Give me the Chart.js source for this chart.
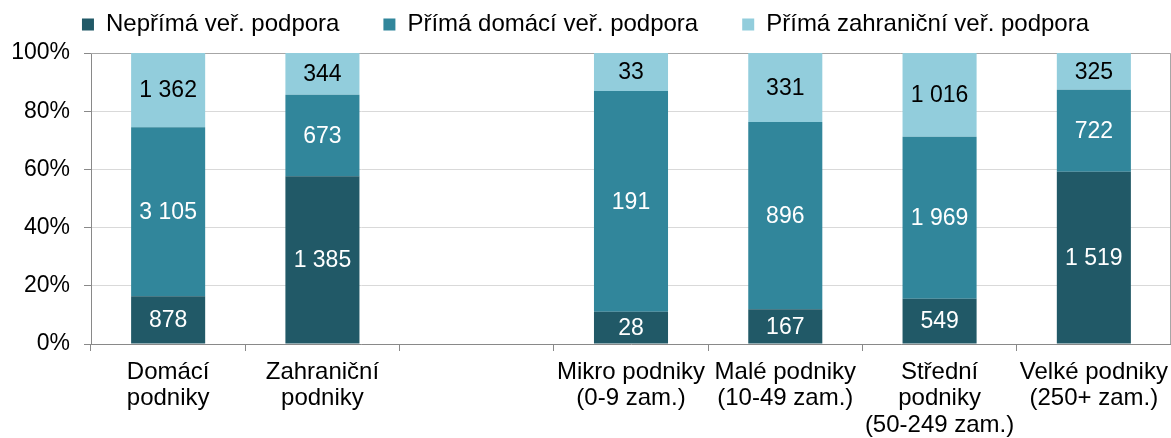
<!DOCTYPE html>
<html lang="cs">
<head>
<meta charset="UTF-8">
<script src="https://cdn.jsdelivr.net/npm/chart.js@4.4.1/dist/chart.umd.min.js"></script>
<title>Podpora podle typu podniku</title>
<style>
  html, body { margin: 0; padding: 0; background: #fff; }
  #wrap { width: 1171px; height: 438px; }
</style>
</head>
<body>
<div id="wrap"><canvas id="chart"></canvas></div>
<script>
// categories (third one is an empty gap)
const categories = [
    ['Domácí', 'podniky'],
    ['Zahraniční', 'podniky'],
    '',
    ['Mikro podniky', '(0-9 zam.)'],
    ['Malé podniky', '(10-49 zam.)'],
    ['Střední', 'podniky', '(50-249 zam.)'],
    ['Velké podniky', '(250+ zam.)']
];
const seriesNames = ['Nepřímá veř. podpora', 'Přímá domácí veř. podpora', 'Přímá zahraniční veř. podpora'];
const neprima = [878, 1385, null, 28, 167, 549, 1519];
const primaDomaci = [3105, 673, null, 191, 896, 1969, 722];
const primaZahranicni = [1362, 344, null, 33, 331, 1016, 325];
const yTicks = [0, 20, 40, 60, 80, 100];

const FONT = "'Liberation Sans', Arial, sans-serif";

// share of each series in its category total (100% stacked)
function share(arr) {
    return arr.map((v, i) => {
        if (v === null) return null;
        const total = neprima[i] + primaDomaci[i] + primaZahranicni[i];
        return v / total * 100;
    });
}

function fmt(n) {
    return String(n).replace(/\B(?=(\d{3})+(?!\d))/g, ' ');
}

const rawValues = [neprima, primaDomaci, primaZahranicni];
const labelColors = ['#ffffff', '#ffffff', '#000000'];

// value labels in the middle of each segment
const valueLabels = {
    id: 'valueLabels',
    afterDatasetsDraw(chart) {
        const ctx = chart.ctx;
        ctx.save();
        ctx.font = '23px ' + FONT;
        ctx.textAlign = 'center';
        ctx.textBaseline = 'middle';
        chart.data.datasets.forEach((ds, di) => {
            const meta = chart.getDatasetMeta(di);
            meta.data.forEach((bar, i) => {
                const v = rawValues[di][i];
                if (v === null) return;
                const p = bar.getProps(['x', 'y', 'base'], true);
                ctx.fillStyle = labelColors[di];
                ctx.fillText(fmt(v), p.x, (p.y + p.base) / 2 + 1);
            });
        });
        ctx.restore();
    }
};

// grey frame on top and right of plot area
const plotFrame = {
    id: 'plotFrame',
    beforeDatasetsDraw(chart) {
        const a = chart.chartArea;
        const ctx = chart.ctx;
        ctx.save();
        ctx.strokeStyle = '#A6A6A6';
        ctx.lineWidth = 1;
        ctx.beginPath();
        ctx.moveTo(a.left, Math.round(a.top) + 0.5);
        ctx.lineTo(Math.round(a.right) - 0.5, Math.round(a.top) + 0.5);
        ctx.lineTo(Math.round(a.right) - 0.5, a.bottom);
        ctx.stroke();
        ctx.restore();
    }
};

const config = {
    type: 'bar',
    data: {
        labels: categories,
        datasets: [
            { label: seriesNames[0], data: share(neprima), backgroundColor: '#215967' },
            { label: seriesNames[1], data: share(primaDomaci), backgroundColor: '#31869B' },
            { label: seriesNames[2], data: share(primaZahranicni), backgroundColor: '#92CDDC' }
        ]
    },
    options: {
        responsive: true,
        maintainAspectRatio: false,
        animation: false,
        datasets: {
            bar: { categoryPercentage: 1, barPercentage: 0.48, borderWidth: 0 }
        },
        layout: { padding: { top: -31.5, left: 0, right: 0, bottom: 0 } },
        plugins: {
            legend: {
                position: 'top',
                labels: {
                    font: { family: FONT, size: 24 },
                    color: '#000',
                    boxWidth: 12,
                    boxHeight: 12,
                    padding: 44
                }
            },
            subtitle: {
                display: true,
                text: '',
                weight: 500,
                font: { size: 1, lineHeight: 1 },
                padding: { top: 0, bottom: 5.5 }
            },
            tooltip: { enabled: false }
        },
        scales: {
            x: {
                stacked: true,
                afterFit(scale) {
                    scale.height = 94;
                    scale.paddingLeft = 0;
                    scale.paddingRight = 0;
                },
                grid: {
                    offset: true,
                    drawOnChartArea: false,
                    tickLength: 7,
                    tickColor: '#898989'
                },
                border: { color: '#898989' },
                ticks: {
                    autoSkip: false,
                    maxRotation: 0,
                    color: '#000',
                    padding: 8,
                    font: { family: FONT, size: 24, lineHeight: 1.1 }
                }
            },
            y: {
                stacked: true,
                min: 0,
                max: 100,
                afterFit(scale) { scale.width = 91; },
                afterBuildTicks(scale) { scale.ticks = yTicks.map(v => ({ value: v })); },
                grid: { color: '#D9D9D9', tickLength: 7, tickColor: '#898989' },
                border: { color: '#898989' },
                ticks: {
                    color: '#000',
                    padding: 14,
                    font: { family: FONT, size: 23 },
                    callback: v => v + '%'
                }
            }
        }
    },
    plugins: [plotFrame, valueLabels]
};

const chart = new Chart(document.getElementById('chart'), config);
</script>
</body>
</html>
